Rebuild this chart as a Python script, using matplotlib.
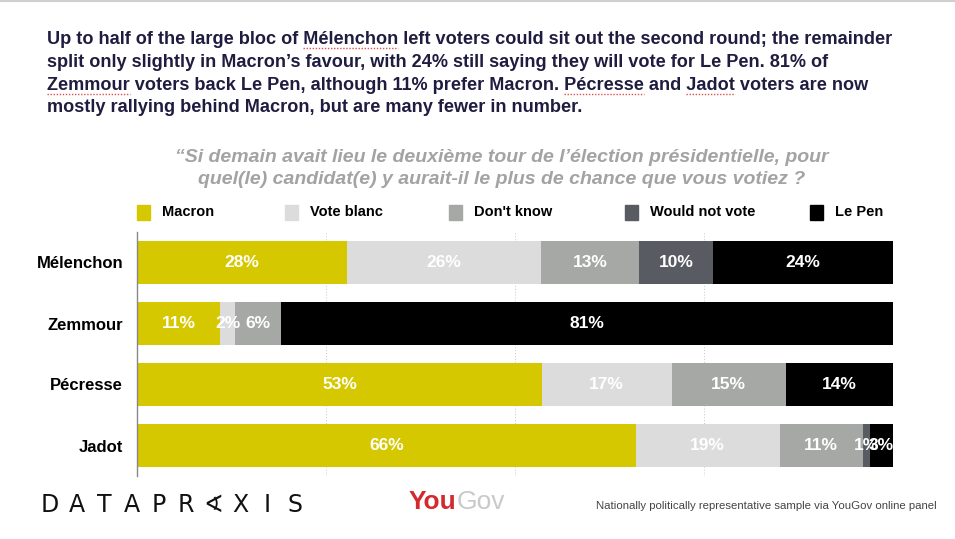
import matplotlib
matplotlib.use("Agg")
import matplotlib.pyplot as plt
import numpy as np

# ---------------- data ----------------
candidates = ["Mélenchon", "Zemmour", "Pécresse", "Jadot"]
series_names = ["Macron", "Vote blanc", "Don't know", "Would not vote", "Le Pen"]
macron = [28, 11, 53, 66]
vote_blanc = [26, 2, 17, 19]
dont_know = [13, 6, 15, 11]
would_not_vote = [10, 0, 0, 1]
le_pen = [24, 81, 14, 3]
gridline_ticks = [25, 50, 75, 100]

title_lines = [
    "Up to half of the large bloc of Mélenchon left voters could sit out the second round; the remainder",
    "split only slightly in Macron\u2019s favour, with 24% still saying they will vote for Le Pen. 81% of",
    "Zemmour voters back Le Pen, although 11% prefer Macron. Pécresse and Jadot voters are now",
    "mostly rallying behind Macron, but are many fewer in number.",
]
underlined_words = [(0, "Mélenchon"), (2, "Zemmour"), (2, "Pécresse"), (2, "Jadot")]
subtitle_lines = [
    "\u201cSi demain avait lieu le deuxième tour de l\u2019élection présidentielle, pour",
    "quel(le) candidat(e) y aurait-il le plus de chance que vous votiez ?",
]
logo_letters = ["D", "A", "T", "A", "P", "R", "\u2222", "X", "I", "S"]
footer_text = "Nationally politically representative sample via YouGov online panel"

colors = ["#d5c800", "#dcdcdd", "#a6a8a5", "#595b62", "#000000"]

plt.rcParams['font.family'] = ['Liberation Sans', 'DejaVu Sans']

W, H = 955, 539
fig = plt.figure(figsize=(W / 100, H / 100), dpi=100)
fig.patch.set_facecolor("white")

def fy(py):
    return 1 - py / H

# axes: x from 137 to 893 px, y from 232 to 476 px
ax = fig.add_axes([137 / W, fy(476), (893 - 137) / W, (476 - 232) / H])

series = [macron, vote_blanc, dont_know, would_not_vote, le_pen]
data = np.array(series, dtype=float)
totals = data.sum(axis=0)
shares = data / totals * 100

y = np.arange(len(candidates))
left = np.zeros(len(candidates))
for i, name in enumerate(series_names):
    widths = shares[i]
    ax.barh(y, widths, left=left, height=0.7, color=colors[i], label=name, zorder=2)
    for j in range(len(candidates)):
        v = series[i][j]
        if v > 0:
            ax.text(left[j] + widths[j] / 2, y[j], f"{v}%", ha="center", va="center",
                    color="white", fontsize=12.5, fontweight="bold", zorder=3)
    left += widths

ax.set_xlim(0, 100)
ax.set_ylim(len(candidates) - 0.5, -0.5)
ax.set_yticks(y)
ax.set_yticklabels(candidates, fontsize=12, fontweight="bold")
ax.tick_params(axis="y", length=0, pad=10)
ax.set_xticks(gridline_ticks)
ax.tick_params(axis="x", length=0, labelbottom=False)
ax.xaxis.grid(True, linestyle=(0, (1, 2)), color="#c8c8c8", linewidth=0.7, zorder=0)
for s in ["top", "right", "bottom"]:
    ax.spines[s].set_visible(False)
ax.spines["left"].set_color("#888888")
ax.spines["left"].set_linewidth(1.0)

# legend
leg_x = [137, 285, 449, 625, 810]
for i, name in enumerate(series_names):
    fig.patches.append(plt.Rectangle((leg_x[i] / W, fy(220)), 13 / W, 15 / H,
                                     transform=fig.transFigure, color=colors[i]))
    fig.text((leg_x[i] + 25) / W, fy(212.5), name, fontsize=10.5, fontweight="bold",
             ha="left", va="center", color="black")

# title (one text per line)
renderer = fig.canvas.get_renderer()
title_baselines = [44, 67, 90, 112.5]
title_kw = dict(fontsize=13.1, fontweight="bold", color="#1f1c40", ha="left", va="baseline")
for k, line in enumerate(title_lines):
    fig.text(47 / W, fy(title_baselines[k]), line, **title_kw)

def text_width_px(s):
    t = fig.text(0, 0, s, **title_kw)
    w = t.get_window_extent(renderer).width
    t.remove()
    return w

for line_idx, word in underlined_words:
    line = title_lines[line_idx]
    pos = line.index(word)
    x0 = 47 + text_width_px(line[:pos]) if pos > 0 else 47
    x1 = 47 + text_width_px(line[:pos + len(word)])
    yy = fy(title_baselines[line_idx] + 4)
    fig.add_artist(plt.Line2D([x0 / W, x1 / W], [yy, yy], transform=fig.transFigure,
                              color="#e05050", linewidth=1.0, linestyle=(0, (1, 1.2))))

# subtitle
sub_baselines = [162, 184]
for k, line in enumerate(subtitle_lines):
    fig.text(502 / W, fy(sub_baselines[k]), line, fontsize=14, fontweight="bold",
             style="italic", color="#a3a3a3", ha="center", va="baseline")

# footer: logo
logo_step = 27.2
for k, ch in enumerate(logo_letters):
    fig.text((50 + k * logo_step) / W, fy(512), ch, fontsize=17, color="#111111",
             ha="center", va="baseline", family=["DejaVu Sans", "Noto Sans CJK SC"])

t_you = fig.text(409 / W, fy(509), "You", fontsize=19, color="#d12a2f", fontweight="bold",
                 ha="left", va="baseline")
w_you = t_you.get_window_extent(renderer).width
fig.text((409 + w_you) / W, fy(509), "Gov", fontsize=19, color="#c9c9c9",
         ha="left", va="baseline")
fig.text(937 / W, fy(506), footer_text, fontsize=8.2, color="#444444", ha="right", va="center")

# thin top border line
fig.add_artist(plt.Line2D([0, 1], [fy(1), fy(1)], transform=fig.transFigure,
                          color="#d0d0d0", linewidth=1.5))

fig.savefig("out.png", dpi=100, facecolor="white")
